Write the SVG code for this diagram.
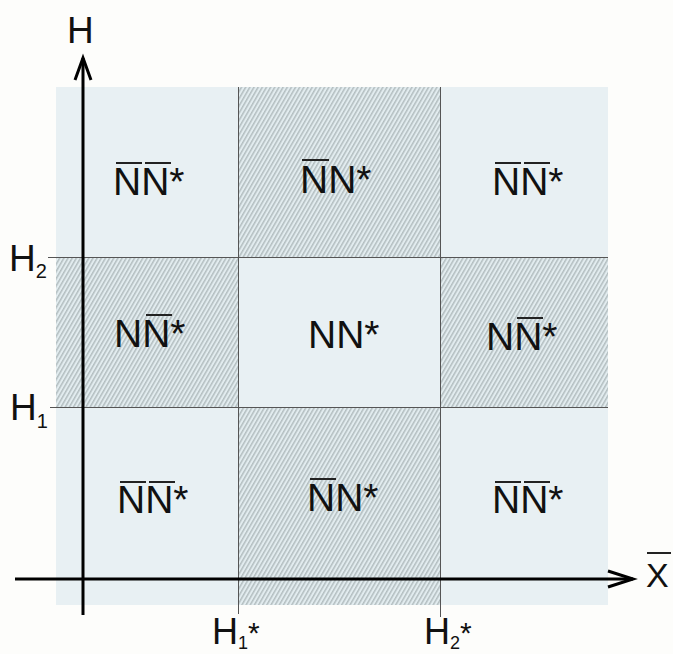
<svg xmlns="http://www.w3.org/2000/svg" width="673" height="654" viewBox="0 0 673 654">
<style>
.lbl{font-family:"Liberation Sans",Arial,sans-serif;font-size:39px;fill:#111}
.ax{font-family:"Liberation Sans",Arial,sans-serif;fill:#111}
.ol{stroke:#222;stroke-width:2}
.grid{stroke:#555;stroke-width:1;fill:none}
.axis{stroke:#000;stroke-width:3;fill:none}
.hatch{fill:url(#hp)}
</style>
<defs>
<pattern id="hp" width="3.6" height="3.6" patternUnits="userSpaceOnUse" patternTransform="rotate(30)">
<rect width="3.6" height="3.6" fill="#e2ecef"/>
<line x1="0.8" y1="0" x2="0.8" y2="3.6" stroke="#9ca7a9" stroke-width="1"/>
</pattern>
</defs>
<rect width="673" height="654" fill="#fdfdfb"/>
<g id="background">
<rect x="56" y="87" width="552" height="518" fill="#e8f0f3"/>
</g>
<g id="cells">
<g id="cell-top-left"><text class="lbl" x="113" y="195">NN*</text><line class="ol" x1="116" y1="163" x2="142" y2="163"/><line class="ol" x1="145" y1="163" x2="171" y2="163"/></g>
<g id="cell-top-middle"><rect class="hatch" x="238" y="87" width="202" height="170"/><text class="lbl" x="300" y="193">NN*</text><line class="ol" x1="302" y1="160" x2="329" y2="160"/></g>
<g id="cell-top-right"><text class="lbl" x="492" y="195">NN*</text><line class="ol" x1="495" y1="163" x2="521" y2="163"/><line class="ol" x1="524" y1="163" x2="550" y2="163"/></g>
<g id="cell-mid-left"><rect class="hatch" x="56" y="257" width="182" height="150"/><text class="lbl" x="114" y="347">NN*</text><line class="ol" x1="146" y1="315" x2="172" y2="315"/></g>
<g id="cell-center"><text class="lbl" x="308" y="348">NN*</text></g>
<g id="cell-mid-right"><rect class="hatch" x="440" y="257" width="168" height="150"/><text class="lbl" x="486" y="350">NN*</text><line class="ol" x1="517" y1="318" x2="543" y2="318"/></g>
<g id="cell-bottom-left"><text class="lbl" x="117" y="513">NN*</text><line class="ol" x1="120" y1="482" x2="146" y2="482"/><line class="ol" x1="149" y1="482" x2="175" y2="482"/></g>
<g id="cell-bottom-middle"><rect class="hatch" x="238" y="407" width="202" height="198"/><text class="lbl" x="307" y="511">NN*</text><line class="ol" x1="310" y1="479" x2="336" y2="479"/></g>
<g id="cell-bottom-right"><text class="lbl" x="492" y="513">NN*</text><line class="ol" x1="495" y1="482" x2="521" y2="482"/><line class="ol" x1="524" y1="482" x2="550" y2="482"/></g>
</g>
<g id="connectors">
<line class="grid" x1="48" y1="257.5" x2="608" y2="257.5"/>
<line class="grid" x1="50" y1="407.5" x2="608" y2="407.5"/>
<line class="grid" x1="238.5" y1="87" x2="238.5" y2="614"/>
<line class="grid" x1="440.5" y1="87" x2="440.5" y2="617"/>
<line class="axis" x1="83" y1="58" x2="83" y2="615"/>
<polyline class="axis" points="75,80 83,58 91,80"/>
<line class="axis" x1="15" y1="579" x2="633" y2="579"/>
<polyline class="axis" points="608,571 633,579 608,587"/>
</g>
<g id="labels">
<text class="ax" x="67" y="43" font-size="37">H</text>
<text class="ax" x="9" y="271" font-size="37">H<tspan font-size="20" dy="7">2</tspan></text>
<text class="ax" x="10" y="420" font-size="37">H<tspan font-size="20" dy="8">1</tspan></text>
<text class="ax" x="212" y="644" font-size="36">H<tspan font-size="18" dy="5">1</tspan><tspan dy="-6" font-size="30">*</tspan></text>
<text class="ax" x="424" y="644" font-size="36">H<tspan font-size="18" dy="5">2</tspan><tspan dy="-6" font-size="30">*</tspan></text>
<text class="ax" x="646" y="587" font-size="34">X</text>
<line class="ol" x1="647" y1="553" x2="671" y2="553"/>
</g>
</svg>
